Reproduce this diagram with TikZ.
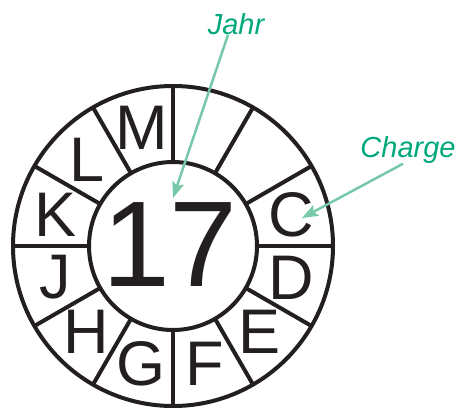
\documentclass[tikz,border=0pt]{standalone}
\usepackage{fontspec}
\setmainfont{Liberation Sans}
\usetikzlibrary{arrows.meta,calc}
\definecolor{ink}{HTML}{231F20}
\definecolor{lblgreen}{HTML}{00A87C}
\definecolor{arrgreen}{HTML}{76C8A9}
\tikzset{
  ring/.style={draw=ink, line width=4pt},
  letter/.style={inner sep=0pt, text=ink, font=\fontsize{63}{63}\selectfont},
  bignum/.style={inner sep=0pt, text=ink, font=\fontsize{122}{122}\selectfont},
  lbl/.style={inner sep=0pt, text=lblgreen, font=\fontsize{29}{29}\selectfont\itshape},
  pointer/.style={draw=arrgreen, line width=2.5pt, -{Stealth[length=16pt,width=12pt,inset=3pt]}}
}
\begin{document}
\begin{tikzpicture}[x=1pt,y=-1pt]
\useasboundingbox (0,0) rectangle (457,407);
\coordinate (c) at (173,246);
% circles
\draw[ring] (c) circle[radius=160pt];
\draw[ring] (c) circle[radius=84pt];
% radial dividers
\foreach \a in {0,30,...,330}
  \draw[ring, line cap=butt] ($(c)+(\a:84pt)$) -- ($(c)+(\a:160pt)$);
% letters
\foreach \l/\a in {M/105,L/135,K/165,J/195,H/225,G/255,F/285,E/315,D/345,C/15}
  \node[letter] (let\l) at ($(c)+(\a:122pt)$) {\l};
% year
\node[bignum] (num) at (170,245) {17};
% labels
\node[lbl] (jahr) at (236,24) {Jahr};
\node[lbl] (charge) at (408,150) {Charge};
\coordinate (jtip) at (173,198);
\coordinate (ctip) at (302,218);
\draw[pointer] ([xshift=-8pt]jahr.south) -- (jtip);
\draw[pointer] ([xshift=-5pt]charge.south) -- (ctip);
\end{tikzpicture}
\end{document}
